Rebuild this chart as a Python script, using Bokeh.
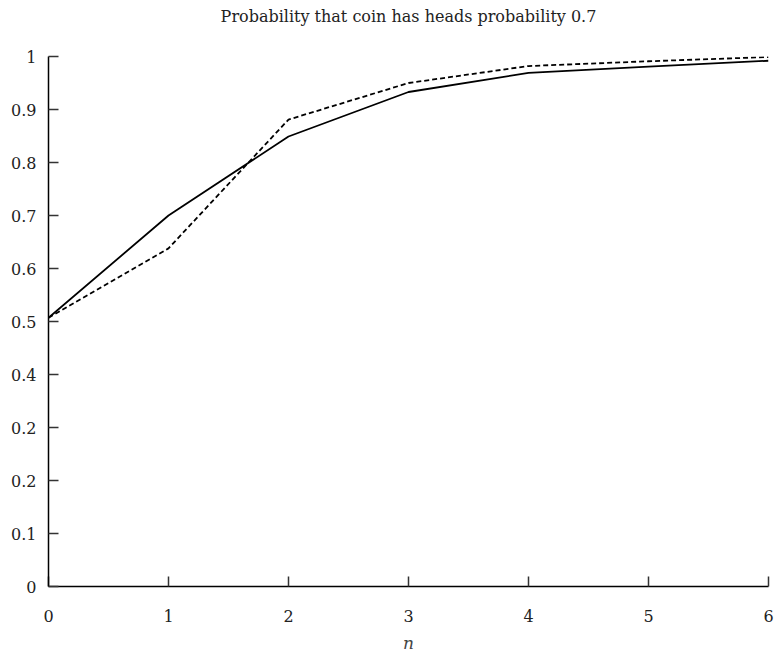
from bokeh.plotting import figure
from bokeh.embed import file_html
from bokeh.resources import INLINE
from bokeh.models import Range1d, FixedTicker, Title

n_values = [0, 1, 2, 3, 4, 5, 6]
solid_prob = [0.507, 0.700, 0.849, 0.933, 0.969, 0.981, 0.992]
dashed_prob = [0.507, 0.638, 0.881, 0.950, 0.982, 0.991, 0.999]
y_ticks = [0, 0.1, 0.2, 0.3, 0.4, 0.5, 0.6, 0.7, 0.8, 0.9, 1.0]
y_tick_labels = ["0", "0.1", "0.2", "0.2", "0.4", "0.5", "0.6", "0.7", "0.8", "0.9", "1"]
x_ticks = [0, 1, 2, 3, 4, 5, 6]
title_text = "Probability that coin has heads probability 0.7"

FONT = "DejaVu Serif"

p = figure(width=780, height=656, output_backend="svg", toolbar_location=None,
           x_range=Range1d(0, 6), y_range=Range1d(0, 1),
           min_border_left=48, min_border_right=12, min_border_top=56, min_border_bottom=70)

p.line(n_values, solid_prob, line_color="black", line_width=1.8)
p.line(n_values, dashed_prob, line_color="black", line_width=1.8, line_dash="5 3")

spacer = Title(text=" ", text_font=FONT, text_font_size="25px", standoff=0)
p.add_layout(spacer, "above")
main_title = Title(text=title_text, align="center", text_font=FONT,
                   text_font_size="16px", text_font_style="normal",
                   text_color="#222222", standoff=0)
p.add_layout(main_title, "above")

p.outline_line_color = None
p.grid.grid_line_color = None

for ax in (p.xaxis[0], p.yaxis[0]):
    ax.axis_line_color = "black"
    ax.axis_line_width = 1.5
    ax.major_tick_in = 10
    ax.major_tick_out = 0
    ax.major_tick_line_color = "#333333"
    ax.major_tick_line_width = 1.5
    ax.minor_tick_line_color = None
    ax.major_label_text_font = FONT
    ax.major_label_text_font_size = "16px"
    ax.major_label_text_color = "#222222"

p.xaxis.ticker = FixedTicker(ticks=x_ticks)
p.yaxis.ticker = FixedTicker(ticks=y_ticks)
p.yaxis.major_label_overrides = {t: l for t, l in zip(y_ticks, y_tick_labels)}
p.yaxis.major_label_standoff = 12
p.xaxis.major_label_standoff = 23
p.xaxis.axis_label = "n"
p.xaxis.axis_label_text_font = FONT
p.xaxis.axis_label_text_font_style = "italic"
p.xaxis.axis_label_text_font_size = "17px"
p.xaxis.axis_label_standoff = 8

open("out.html", "w").write(file_html(p, INLINE))
